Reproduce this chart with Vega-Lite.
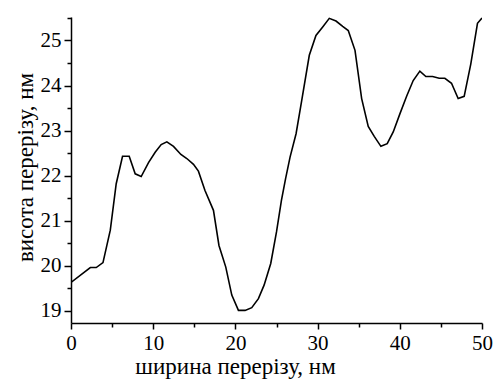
{
  "$schema": "https://vega.github.io/schema/vega-lite/v6.json",
  "width": 411,
  "height": 306,
  "autosize": {"type": "none"},
  "padding": {"left": 71, "top": 17, "right": 14, "bottom": 56},
  "background": "white",
  "config": {
    "view": {"stroke": null},
    "font": "Liberation Serif, Times New Roman, serif",
    "axis": {
      "domainColor": "black",
      "domainWidth": 1.5,
      "tickColor": "black",
      "tickWidth": 1.5,
      "labelColor": "black",
      "labelFont": "Liberation Serif, Times New Roman, serif",
      "labelFontSize": 21,
      "titleFont": "Liberation Serif, Times New Roman, serif",
      "titleFontSize": 23,
      "titleFontWeight": "normal",
      "titleColor": "black",
      "grid": false
    }
  },
  "data": {
    "values": [
      {"x": 0, "y": 19.63},
      {"x": 2.35, "y": 19.96},
      {"x": 3.07, "y": 19.96},
      {"x": 3.89, "y": 20.07},
      {"x": 4.78, "y": 20.79},
      {"x": 5.5, "y": 21.82},
      {"x": 6.27, "y": 22.43},
      {"x": 7.08, "y": 22.43},
      {"x": 7.81, "y": 22.04},
      {"x": 8.54, "y": 21.98},
      {"x": 9.43, "y": 22.29},
      {"x": 10.24, "y": 22.52},
      {"x": 10.97, "y": 22.69},
      {"x": 11.66, "y": 22.75},
      {"x": 12.47, "y": 22.65},
      {"x": 13.37, "y": 22.47},
      {"x": 14.09, "y": 22.38},
      {"x": 14.9, "y": 22.25},
      {"x": 15.5, "y": 22.1},
      {"x": 16.3, "y": 21.67},
      {"x": 17.33, "y": 21.23},
      {"x": 18.0, "y": 20.45},
      {"x": 18.83, "y": 19.97},
      {"x": 19.56, "y": 19.35},
      {"x": 20.37, "y": 19.01},
      {"x": 21.18, "y": 19.01},
      {"x": 21.99, "y": 19.07},
      {"x": 22.8, "y": 19.27},
      {"x": 23.49, "y": 19.57},
      {"x": 24.3, "y": 20.05},
      {"x": 25.0, "y": 20.75},
      {"x": 25.6, "y": 21.45},
      {"x": 26.1, "y": 21.93},
      {"x": 26.65, "y": 22.41},
      {"x": 27.38, "y": 22.93},
      {"x": 28.07, "y": 23.67},
      {"x": 28.99, "y": 24.67},
      {"x": 29.8, "y": 25.11},
      {"x": 30.62, "y": 25.3},
      {"x": 31.42, "y": 25.49},
      {"x": 32.24, "y": 25.43},
      {"x": 33.05, "y": 25.31},
      {"x": 33.73, "y": 25.22},
      {"x": 34.55, "y": 24.78},
      {"x": 35.36, "y": 23.71},
      {"x": 36.16, "y": 23.09},
      {"x": 36.89, "y": 22.87},
      {"x": 37.7, "y": 22.65},
      {"x": 38.47, "y": 22.71},
      {"x": 39.2, "y": 22.97},
      {"x": 40.01, "y": 23.37},
      {"x": 40.83, "y": 23.76},
      {"x": 41.63, "y": 24.11},
      {"x": 42.44, "y": 24.32},
      {"x": 43.17, "y": 24.2},
      {"x": 43.99, "y": 24.2},
      {"x": 44.79, "y": 24.16},
      {"x": 45.48, "y": 24.16},
      {"x": 46.29, "y": 24.05},
      {"x": 47.1, "y": 23.71},
      {"x": 47.83, "y": 23.76},
      {"x": 48.64, "y": 24.48},
      {"x": 49.45, "y": 25.38},
      {"x": 50.0, "y": 25.5}
    ]
  },
  "layer": [
    {
      "mark": {"type": "line", "color": "black", "strokeWidth": 1.6, "clip": true},
      "encoding": {
        "x": {
          "field": "x", "type": "quantitative",
          "scale": {"domain": [0, 50], "nice": false, "zero": false},
          "axis": {"orient": "bottom", "values": [0, 10, 20, 30, 40, 50], "tickSize": 6, "labelPadding": 3, "title": "ширина перерізу, нм", "titlePadding": 2, "titleX": 164, "labelFlush": false}
        },
        "y": {
          "field": "y", "type": "quantitative",
          "scale": {"domain": [18.73, 25.52], "nice": false, "zero": false},
          "axis": {"orient": "left", "values": [19, 20, 21, 22, 23, 24, 25], "tickSize": 7, "labelPadding": 3, "title": "висота перерізу, нм", "titlePadding": 3, "titleY": 150, "labelFlush": false}
        }
      }
    },
    {
      "mark": {"type": "line", "strokeOpacity": 0},
      "encoding": {
        "x": {
          "field": "x", "type": "quantitative",
          "axis": {"orient": "bottom", "values": [5, 15, 25, 35, 45], "tickSize": 4, "labels": false, "domain": false, "title": null}
        },
        "y": {
          "field": "y", "type": "quantitative",
          "axis": {"orient": "left", "values": [19.5, 20.5, 21.5, 22.5, 23.5, 24.5, 25.5], "tickSize": 4, "labels": false, "domain": false, "title": null}
        }
      }
    }
  ],
  "resolve": {"axis": {"x": "independent", "y": "independent"}}
}
